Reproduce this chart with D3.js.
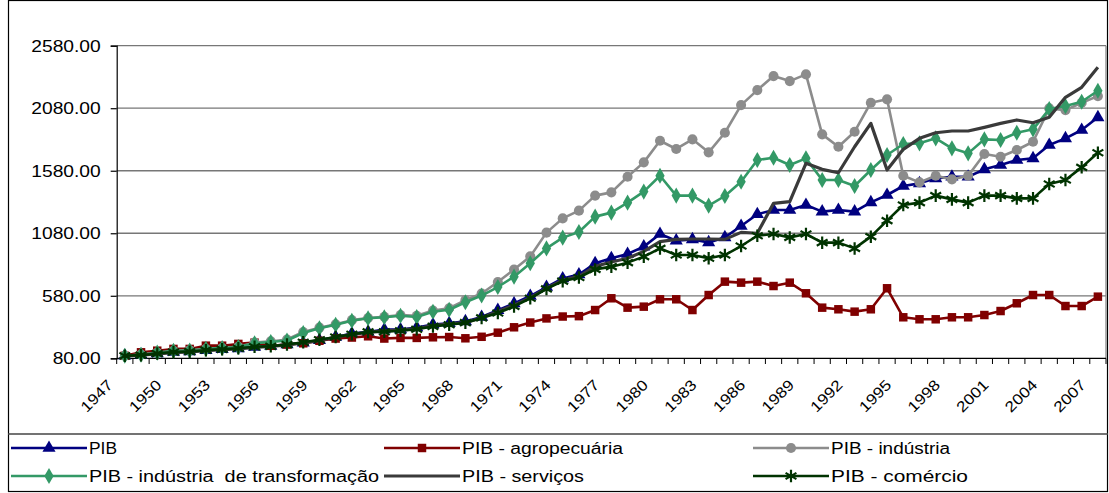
<!DOCTYPE html>
<html lang="pt">
<head>
<meta charset="UTF-8">
<title>PIB setorial 1947-2007</title>
<script src="https://d3js.org/d3.v7.min.js"></script>
<style>
  body { margin: 0; background: #fff; }
  text { font-family: Arial, "Liberation Sans", sans-serif; fill: #000; white-space: pre; }
</style>
</head>
<body>
<script>
// dados (índice, 1947 = 100)
const years = d3.range(1947, 2008);
const yTicks = [80, 580, 1080, 1580, 2080, 2580];

const pib = [100,108,118,130,135,145,152,158,170,178,190,205,224,251,278,291,310,310,326,350,
  360,375,410,465,518,578,650,718,750,840,880,914,973,1074,1021,1031,1007,1047,1138,1232,
  1266,1266,1306,1253,1266,1253,1327,1386,1458,1479,1519,1532,1532,1591,1626,1666,1679,1786,1839,1906,2007];
const agro = [100,128,141,155,155,181,181,195,205,180,190,200,220,238,246,256,238,243,243,248,
  250,240,252,285,328,366,399,414,417,466,560,485,493,552,552,466,586,693,685,693,
  658,685,600,485,472,453,472,640,408,392,392,408,408,426,458,520,586,586,498,498,573];
const industria = [100,110,125,140,145,155,162,172,205,215,230,290,325,352,385,402,412,425,420,462,
  480,545,598,690,790,895,1085,1199,1261,1381,1407,1532,1647,1820,1754,1831,1727,1884,2105,2225,
  2337,2297,2351,1871,1772,1892,2124,2151,1540,1487,1540,1511,1540,1714,1692,1746,1812,2079,2065,2124,2177];
const transformacao = [100,108,125,140,142,155,162,170,200,210,222,282,320,348,380,400,408,420,410,452,
  468,528,582,650,733,840,959,1045,1090,1213,1245,1325,1413,1540,1381,1381,1301,1378,1492,1666,
  1684,1626,1679,1506,1506,1458,1586,1706,1794,1799,1839,1759,1719,1831,1826,1884,1911,2073,2097,2132,2220];
const servicos = [100,106,115,126,132,142,150,156,168,175,188,203,222,248,272,288,300,305,318,342,
  355,365,405,455,505,565,640,705,735,815,850,880,935,1013,1031,1034,1034,1031,1087,1080,
  1319,1333,1639,1591,1564,1772,1959,1586,1751,1839,1884,1898,1898,1927,1959,1986,1964,2007,2167,2247,2407];
const comercio = [100,105,118,130,133,145,152,160,172,176,190,208,228,250,272,291,292,300,312,335,
  348,365,403,442,495,560,635,697,726,791,813,845,893,959,906,906,880,906,978,1060,
  1074,1047,1074,1005,1005,959,1053,1181,1306,1325,1381,1351,1325,1381,1381,1359,1359,1474,1506,1607,1724];

const series = [
  {name: "PIB", values: pib, color: "#000080", marker: "triangle"},
  {name: "PIB - agropecuária", values: agro, color: "#800000", marker: "square"},
  {name: "PIB - indústria", values: industria, color: "#8c8c8c", marker: "circle"},
  {name: "PIB - indústria  de transformação", values: transformacao, color: "#339966", marker: "diamond"},
  {name: "PIB - serviços", values: servicos, color: "#3a3a3a", marker: null},
  {name: "PIB - comércio", values: comercio, color: "#003300", marker: "star"}
];

const width = 1109, height = 493;
const svg = d3.select("body").append("svg")
  .attr("width", width)
  .attr("height", height);

const x = d3.scaleBand().domain(years).range([116.7, 1106]);
const y = d3.scaleLinear().domain([80, 2580]).range([358.3, 45.7]);
const cx = d => x(d) + x.bandwidth() / 2;

// o texto do original é mais largo que o Arial normal
function stretch(sel, k) {
  sel.each(function() {
    const w = this.getComputedTextLength();
    d3.select(this).attr("textLength", w * k).attr("lengthAdjust", "spacingAndGlyphs");
  });
}

// moldura
svg.append("rect")
  .attr("x", 8.5).attr("y", 0.5)
  .attr("width", 1099).attr("height", 491)
  .attr("fill", "none").attr("stroke", "#000").attr("stroke-width", 1.2);
svg.append("line")
  .attr("x1", 8).attr("x2", 1108).attr("y1", 434).attr("y2", 434)
  .attr("stroke", "#444").attr("stroke-width", 1.5);

// grade
svg.append("g").selectAll("line")
  .data(yTicks.slice(1))
  .join("line")
  .attr("x1", 116.7).attr("x2", 1106)
  .attr("y1", d => y(d)).attr("y2", d => y(d))
  .attr("stroke", "#777").attr("stroke-width", 1.3);
svg.append("line")
  .attr("x1", 1106).attr("x2", 1106).attr("y1", y(2580)).attr("y2", y(80))
  .attr("stroke", "#888").attr("stroke-width", 1.3);

// eixo y
const yAxis = svg.append("g")
  .attr("transform", "translate(116.7,0)")
  .call(d3.axisLeft(y).tickValues(yTicks).tickSize(6).tickPadding(10).tickFormat(d3.format(".2f")));
yAxis.selectAll("text").style("font-size", "17px").attr("font-family", null).call(stretch, 1.13);
yAxis.selectAll("line, path").attr("stroke", "#000").attr("stroke-width", 1.2);

// eixo x
svg.append("line")
  .attr("x1", 116.7).attr("x2", 1106).attr("y1", 358.3).attr("y2", 358.3)
  .attr("stroke", "#000").attr("stroke-width", 1.2);
svg.append("g").selectAll("line")
  .data(years.concat([2008]))
  .join("line")
  .attr("x1", d => d === 2008 ? 1106 : x(d))
  .attr("x2", d => d === 2008 ? 1106 : x(d))
  .attr("y1", 358.3).attr("y2", 364)
  .attr("stroke", "#000").attr("stroke-width", 1);
svg.append("g").selectAll("text")
  .data(years.filter(d => (d - 1947) % 3 === 0))
  .join("text")
  .attr("transform", d => `translate(${cx(d) - 11},386) rotate(-45)`)
  .attr("text-anchor", "end")
  .style("font-size", "15px")
  .text(d => d)
  .call(stretch, 1.15);

// símbolos
const symbolOf = {
  triangle: d3.symbol().type(d3.symbolTriangle).size(75),
  square: d3.symbol().type(d3.symbolSquare).size(72),
  circle: d3.symbol().type(d3.symbolCircle).size(80),
  diamond: d3.symbol().type(d3.symbolDiamond).size(75),
  star: d3.symbol().type(d3.symbolAsterisk).size(110)
};

function drawMarker(g, type, color) {
  if (type === "star") {
    g.append("path").attr("d", symbolOf.star())
      .attr("fill", "none").attr("stroke", color).attr("stroke-width", 2.2);
  } else {
    g.append("path").attr("d", symbolOf[type]()).attr("fill", color);
  }
}

const line = d3.line()
  .x((d, i) => cx(years[i]))
  .y(d => y(d));

series.forEach(s => {
  const g = svg.append("g");
  g.append("path")
    .datum(s.values)
    .attr("d", line)
    .attr("fill", "none")
    .attr("stroke", s.color)
    .attr("stroke-width", s.marker ? 2.6 : 3.2)
    .attr("stroke-linejoin", "round");
  if (s.marker) {
    s.values.forEach((v, i) => {
      const m = g.append("g").attr("transform", `translate(${cx(years[i])},${y(v)})`);
      drawMarker(m, s.marker, s.color);
    });
  }
});

// legenda: [x da linha, y, largura do texto]
const legendPos = [[11, 448, 28], [384, 448, 161], [753, 448, 119], [11, 476, 290], [384, 476, 122], [753, 476, 137]];
series.forEach((s, i) => {
  const [lx, ly, tw] = legendPos[i];
  const g = svg.append("g").attr("transform", `translate(${lx},${ly})`);
  g.append("line").attr("x1", 0).attr("x2", 76).attr("y1", 0).attr("y2", 0)
    .attr("stroke", s.color).attr("stroke-width", s.marker ? 2.6 : 3.2);
  if (s.marker) {
    drawMarker(g.append("g").attr("transform", "translate(38,0)"), s.marker, s.color);
  }
  g.append("text").attr("x", 78).attr("y", 0).attr("dy", "0.35em")
    .style("font-size", "16px")
    .attr("textLength", tw).attr("lengthAdjust", "spacingAndGlyphs")
    .text(s.name);
});
</script>
</body>
</html>
